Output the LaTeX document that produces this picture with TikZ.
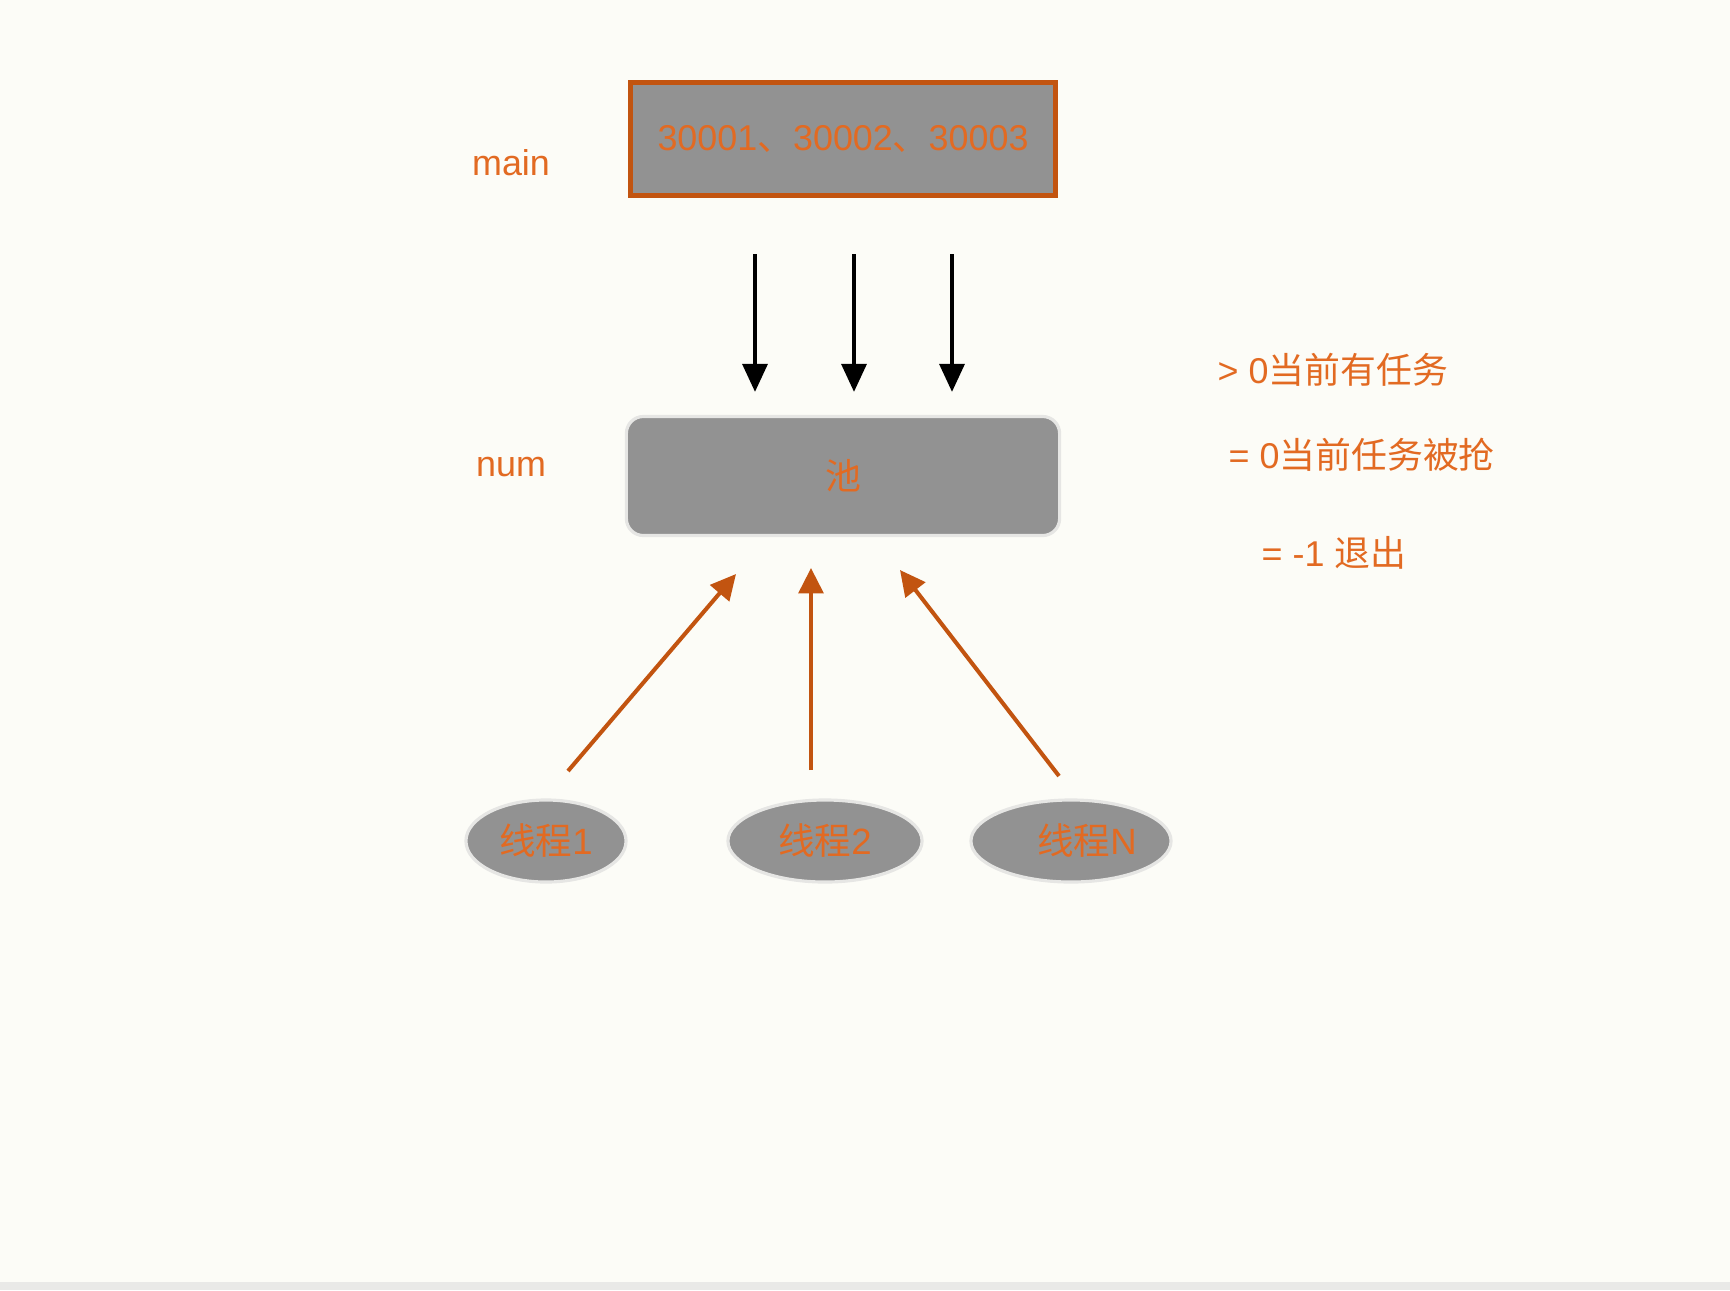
\documentclass[tikz,border=0pt]{standalone}
\usepackage{fontspec}
\setmainfont{Liberation Sans}
\newfontfamily\cjk{Noto Sans CJK SC}
\usetikzlibrary{arrows.meta, shapes.geometric}
\definecolor{paper}{RGB}{252,252,247}
\definecolor{strip}{RGB}{233,233,231}
\definecolor{boxgray}{RGB}{146,146,146}
\definecolor{rimgray}{RGB}{230,230,228}
\definecolor{rust}{RGB}{194,84,16}
\definecolor{orangetxt}{RGB}{226,106,34}

\begin{document}
\begin{tikzpicture}[x=0.01cm, y=-0.01cm,
  lbl/.style={text=orangetxt, font=\fontsize{10.2}{12}\selectfont, inner sep=0pt},
  thread/.style={ellipse, draw=rimgray, line width=0.9pt, fill=boxgray, inner sep=0pt, minimum height=0.82cm, text=orangetxt, font=\fontsize{10.4}{12}\selectfont},
  push/.style={-{Triangle[length=8pt, width=7pt]}, line width=1.3pt, black},
  grab/.style={-{Triangle[length=7.2pt, width=7pt]}, line width=1.15pt, rust}]
\useasboundingbox (0, 0) rectangle (1730, 1290);
\fill[paper] (0, 0) rectangle (1730, 1290);
\fill[strip] (0, 1282) rectangle (1730, 1290);

\path (843, 139) node[draw=rust, line width=1.3pt, fill=boxgray, minimum width=4.25cm, minimum height=1.13cm, lbl] (queue) {30001{\cjk 、}30002{\cjk 、}30003}
      (843, 476) node[draw=rimgray, line width=0.9pt, fill=boxgray, rounded corners=0.17cm, minimum width=4.33cm, minimum height=1.19cm, lbl] (pool) {\cjk 池}
      (511, 163) node[lbl] (mainlbl) {main}
      (511, 467) node[lbl] (numlbl) {num};

\path (546, 841) node[thread, minimum width=1.6cm] (t1) {{\cjk 线程}1}
      (825, 841) node[thread, minimum width=1.94cm] (t2) {{\cjk 线程}2}
      (1071, 841) node[thread, minimum width=2cm] (t3) {\hspace{0.32cm}{\cjk 线程}N};

\path (1217, 370) node[lbl, anchor=west] (gt) {> 0{\cjk 当前有任务}}
      (1228, 455) node[lbl, anchor=west] (eq) {= 0{\cjk 当前任务被抢}}
      (1261, 553) node[lbl, anchor=west] (neg) {= -1 {\cjk 退出}};

\foreach \x [count=\i] in {755, 854, 952} {
  \coordinate (d\i) at (\x, 254);
  \coordinate (e\i) at (\x, 392);
  \draw[push] (d\i) -- (e\i);
}

\coordinate (s1) at (568, 771);  \coordinate (f1) at (736, 574);
\coordinate (s2) at (811, 770);  \coordinate (f2) at (811, 568);
\coordinate (s3) at (1059, 776); \coordinate (f3) at (900, 570);
\draw[grab] (s1) -- (f1);
\draw[grab] (s2) -- (f2);
\draw[grab] (s3) -- (f3);
\end{tikzpicture}
\end{document}
